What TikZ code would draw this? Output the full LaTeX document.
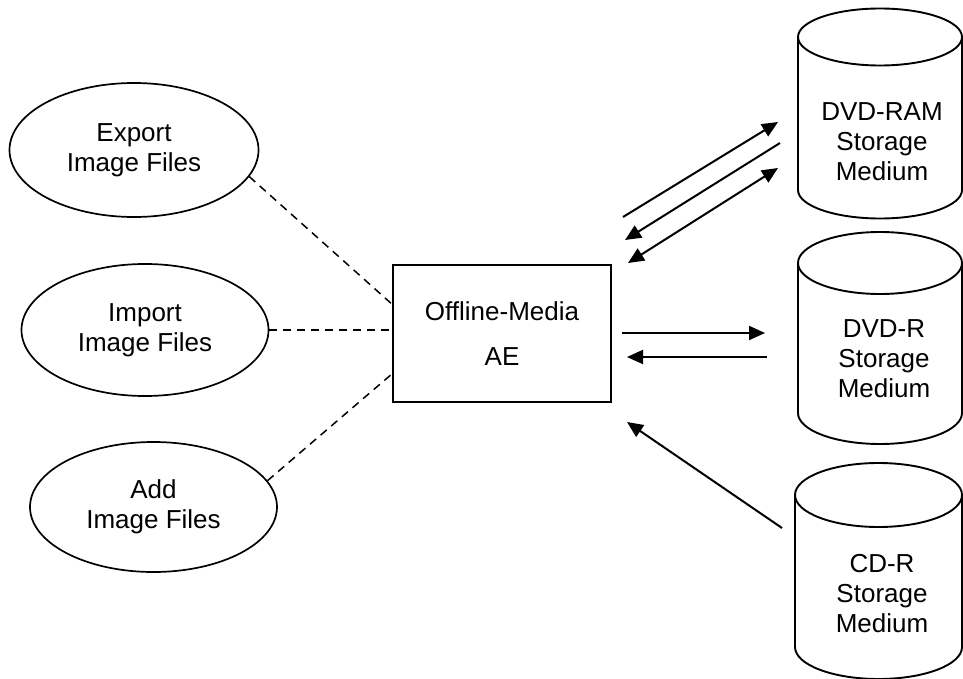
\documentclass[tikz,border=0pt]{standalone}
\usepackage{fontspec}
\setmainfont{Liberation Sans}
\usetikzlibrary{shapes.geometric,arrows.meta,calc}
\tikzset{
  txt/.style={font=\fontsize{26}{30}\selectfont, align=center, inner sep=0pt},
  usecase/.style={txt, draw, ellipse, line width=1.7pt, minimum width=#1, minimum height=132pt},
  aebox/.style={txt, draw, rectangle, line width=1.5pt, minimum width=218pt, minimum height=137pt},
  cyl/.style={line width=1.9pt},
  link/.style={line width=1.5pt, dash pattern=on 8pt off 6pt},
  flow/.style={line width=2pt, -{Triangle[length=16pt,width=14pt]}},
  flow2/.style={line width=2pt, {Triangle[length=16pt,width=14pt]}-{Triangle[length=16pt,width=14pt]}}
}
\newcommand\drawcyl[5]{% cx, rx, top centre, bottom centre, ry
  \draw[cyl] (#1,#3) ellipse[x radius=#2pt, y radius=#5pt];
  \draw[cyl] (#1-#2,#3) -- (#1-#2,#4) arc[start angle=180,end angle=360,x radius=#2pt,y radius=#5pt] -- (#1+#2,#3);
}
\begin{document}
\begin{tikzpicture}[x=1pt,y=-1pt]
\useasboundingbox (0,0) rectangle (963,679);

% use cases
\node[usecase=249pt, minimum height=134pt] (exp) at (134,150) {Export\\Image Files};
\node[usecase=247pt] (imp) at (145,330) {Import\\Image Files};
\node[usecase=247pt, minimum height=130pt] (add) at (153.5,507) {Add\\Image Files};

% application entity
\node[aebox] (ae) at (502,333.5) {Offline-Media\\[15pt]AE};

% storage media
\drawcyl{880}{82}{37}{190}{28.5}
\drawcyl{880}{82}{263}{413}{31}
\drawcyl{878.5}{83.5}{495}{647}{32}
\node[txt] (ram) at (882,142) {DVD-RAM\\Storage\\Medium};
\node[txt] (dvdr) at (884,359) {DVD-R\\Storage\\Medium};
\node[txt] (cdr) at (882,594) {CD-R\\Storage\\Medium};

% dashed associations
\coordinate (ae1) at ($(ae.north west)!0.29!(ae.south west)$);
\coordinate (ae3) at ($(ae.north west)!0.79!(ae.south west)$);
\draw[link] (exp.-13.5) -- (ae1);
\draw[link] (imp.east) -- (imp.east -| ae.west);
\draw[link] (add.13.7) -- (ae3);

% arrow end points
\coordinate (r1a) at (623,217); \coordinate (r1b) at (778,122);
\coordinate (r2a) at (780,143); \coordinate (r2b) at (625,240);
\coordinate (r3a) at (628,263); \coordinate (r3b) at (778,168);
\coordinate (d1a) at (622,333); \coordinate (d1b) at (765,333);
\coordinate (d2a) at (767,357); \coordinate (d2b) at (627,357);
\coordinate (c1a) at (782,528); \coordinate (c1b) at (627,422);

\draw[flow] (r1a) -- (r1b);
\draw[flow] (r2a) -- (r2b);
\draw[flow2] (r3a) -- (r3b);
\draw[flow] (d1a) -- (d1b);
\draw[flow] (d2a) -- (d2b);
\draw[flow] (c1a) -- (c1b);
\end{tikzpicture}
\end{document}
